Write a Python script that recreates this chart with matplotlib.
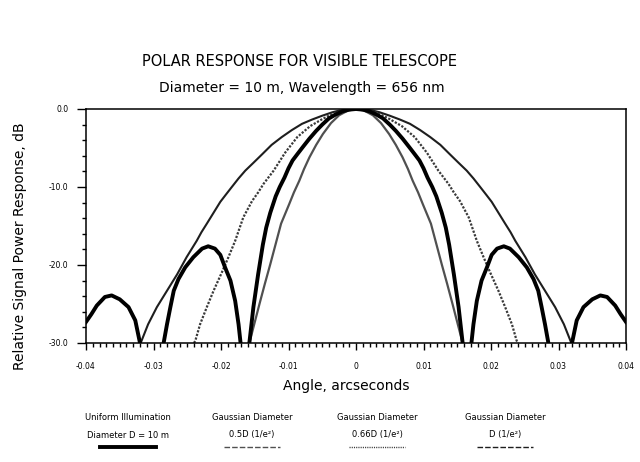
import numpy as np
import matplotlib
matplotlib.use("Agg")
import matplotlib.pyplot as plt
from matplotlib.lines import Line2D
from matplotlib.ticker import MultipleLocator

plt.rcParams['font.family'] = ['DejaVu Sans']
plt.rcParams['axes.unicode_minus'] = False

# right half of each response curve (angle in arcsec, response in dB),
# read off the picture; the curves are symmetric about 0
# values below -30 dB mark nulls and get clipped by the axes
uni_x = [0.0, 0.001, 0.002, 0.003, 0.004, 0.005, 0.0059, 0.0069, 0.0079, 0.0087,
         0.0094, 0.0100, 0.0106, 0.0113, 0.0119, 0.0127,
         0.0133, 0.0138, 0.0145, 0.0152, 0.0158, 0.01645,
         0.0171, 0.0174, 0.0179, 0.0186, 0.0194, 0.0201, 0.0209, 0.0219,
         0.0228, 0.0241, 0.0253, 0.0263, 0.0270, 0.0275, 0.0280, 0.0285, 0.0302,
         0.0320, 0.0327, 0.0337, 0.0350, 0.0362, 0.0372, 0.0384, 0.0392, 0.0400]
uni_db = [0.0, -0.08, -0.3, -0.7, -1.2, -2.0, -2.8, -3.8, -4.9, -5.8,
          -6.6, -7.6, -8.8, -10.0, -11.2, -13.3,
          -15.2, -17.4, -21.2, -25.4, -30.0, -50.0,
          -30.0, -27.6, -24.6, -22.0, -20.3, -18.7, -17.9, -17.6,
          -17.9, -19.0, -20.3, -21.8, -23.3, -25.4, -27.6, -30.0, -50.0,
          -30.0, -27.1, -25.4, -24.4, -23.9, -24.1, -25.2, -26.3, -27.3]

# Gaussian D (1/e^2)  - broad thin curve
gd_x = [0.0, 0.0015, 0.0025, 0.0035, 0.0050, 0.0065, 0.0080, 0.0095, 0.0110,
        0.0125, 0.0139, 0.0152, 0.0164, 0.0174, 0.0184, 0.0193, 0.0201, 0.0211,
        0.0221, 0.0229, 0.0236, 0.0251, 0.0265, 0.0280, 0.0295, 0.0308, 0.0319, 0.0323]
gd_db = [0.0, -0.08, -0.2, -0.42, -0.86, -1.35, -1.9, -2.7, -3.6,
         -4.6, -5.8, -6.9, -7.9, -8.9, -10.0, -11.0, -11.9, -13.3,
         -14.7, -15.8, -16.9, -19.0, -21.2, -23.3, -25.4, -27.6, -30.0, -33.0]

# Gaussian 0.5D (1/e^2) - narrow gray curve
g05_x = [0.0, 0.0012, 0.0025, 0.0037, 0.0049, 0.0059, 0.0069, 0.0077, 0.0084,
         0.0092, 0.0099, 0.0111, 0.0119, 0.0127, 0.0135, 0.0143, 0.0152, 0.0158, 0.0161]
g05_db = [0.0, -0.2, -0.8, -1.8, -3.2, -4.6, -6.2, -7.7, -9.2,
          -10.7, -12.2, -14.7, -17.3, -19.9, -22.4, -25.0, -28.0, -30.0, -31.5]

# Gaussian 0.66D (1/e^2) - dotted curve
g066_x = [0.0, 0.0015, 0.0030, 0.0040, 0.0050, 0.0068, 0.0087, 0.0105, 0.0122,
          0.0137, 0.0145, 0.0154, 0.0167, 0.0179, 0.0189, 0.0199, 0.0211,
          0.0221, 0.0231, 0.0238, 0.0240]
g066_db = [0.0, -0.12, -0.5, -0.85, -1.3, -2.2, -3.6, -5.6, -7.9,
           -9.6, -10.7, -11.8, -13.9, -16.9, -19.0, -21.0, -23.3,
           -25.4, -27.6, -29.7, -30.0]

xticks = [-0.04, -0.03, -0.02, -0.01, 0.0, 0.01, 0.02, 0.03, 0.04]
xtick_labels = ['-0.04', '-0.03', '-0.02', '-0.01', '0', '0.01', '0.02', '0.03', '0.04']
yticks = [0, -10, -20, -30]
ytick_labels = ['0.0', '-10.0', '-20.0', '-30.0']

legend_top = ['Uniform Illumination', 'Gaussian Diameter', 'Gaussian Diameter', 'Gaussian Diameter']
legend_mid = ['Diameter D = 10 m', '0.5D (1/e²)', '0.66D (1/e²)', 'D (1/e²)']


def mirror(x, y):
    x = np.asarray(x)
    y = np.asarray(y)
    return np.concatenate([-x[:0:-1], x]), np.concatenate([y[:0:-1], y])


fig = plt.figure(figsize=(6.4, 4.62), dpi=100)
ax = fig.add_axes([86/640, 1-343/462, 540/640, 234/462])

x, y = mirror(gd_x, gd_db)
ax.plot(x, y, color='#1e1e1e', lw=1.5, solid_joinstyle='round')
x, y = mirror(g066_x, g066_db)
ax.plot(x, y, color='#3a3a3a', lw=1.6, linestyle=(0, (1.0, 0.7)))
x, y = mirror(g05_x, g05_db)
ax.plot(x, y, color='#505050', lw=1.6, solid_joinstyle='round')
x, y = mirror(uni_x, uni_db)
ax.plot(x, y, color='black', lw=2.8, solid_joinstyle='round')

ax.set_xlim(-0.04, 0.04)
ax.set_ylim(-30, 0)
ax.set_xticks(xticks)
ax.set_xticklabels(xtick_labels)
ax.set_yticks(yticks)
ax.set_yticklabels(ytick_labels)
ax.xaxis.set_minor_locator(MultipleLocator(0.001))
ax.yaxis.set_minor_locator(MultipleLocator(2))
ax.tick_params(axis='x', which='major', direction='out', length=5, width=1, pad=9, labelsize=5.5)
ax.tick_params(axis='x', which='minor', direction='out', length=3, width=1)
ax.tick_params(axis='y', which='major', direction='out', length=6.5, width=1, pad=6, labelsize=5.5)
ax.tick_params(axis='y', which='minor', direction='out', length=3, width=1)
for s in ax.spines.values():
    s.set_linewidth(1.1)

fig.text(299/640, 1-62/462, 'POLAR RESPONSE FOR VISIBLE TELESCOPE',
         ha='center', va='center', fontsize=10.5)
fig.text(302/640, 1-88/462, 'Diameter = 10 m, Wavelength = 656 nm',
         ha='center', va='center', fontsize=10)
fig.text(346/640, 1-386/462, 'Angle, arcseconds', ha='center', va='center', fontsize=10)
fig.text(20/640, 1-246/462, 'Relative Signal Power Response, dB', ha='center', va='center',
         rotation=90, fontsize=10)

# legend block under the axis
cols = [128, 252, 377, 505]
styles = [dict(color='black', lw=2.8),
          dict(color='#505050', lw=1.0, linestyle=(0, (4, 1.5))),
          dict(color='#3a3a3a', lw=1.0, linestyle=(0, (0.8, 0.8))),
          dict(color='#1e1e1e', lw=1.0, linestyle=(0, (4, 1.5)))]
for cx, t1, t2, st in zip(cols, legend_top, legend_mid, styles):
    fig.text(cx/640, 1-417/462, t1, ha='center', va='center', fontsize=6)
    fig.text(cx/640, 1-435/462, t2, ha='center', va='center', fontsize=6)
    fig.add_artist(Line2D([(cx-28)/640, (cx+28)/640], [1-447/462, 1-447/462], **st))

fig.savefig('out.png', dpi=100)
